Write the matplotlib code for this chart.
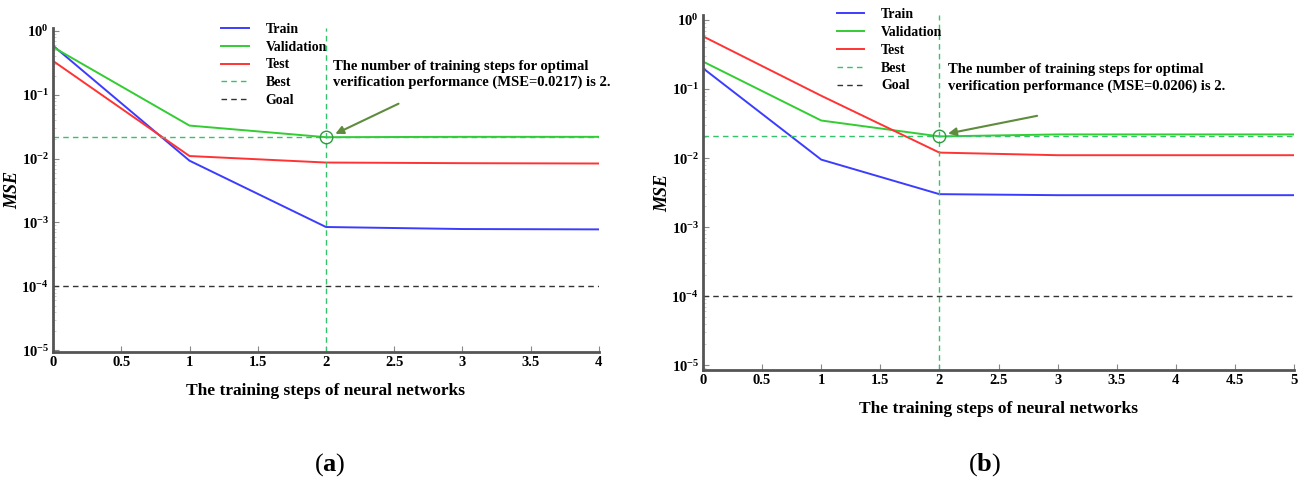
import numpy as np
import matplotlib
matplotlib.use('Agg')
import matplotlib.pyplot as plt
from matplotlib.ticker import FixedLocator, FixedFormatter, LogLocator, NullFormatter

# FONT
plt.rcParams['font.family'] = ['Liberation Serif', 'DejaVu Serif']
plt.rcParams['mathtext.fontset'] = 'custom'
plt.rcParams['mathtext.rm'] = 'Liberation Serif'
plt.rcParams['mathtext.bf'] = 'Liberation Serif:bold'
plt.rcParams['mathtext.it'] = 'Liberation Serif:italic'

# DATA (a)
STEPS_A = [0, 1, 2, 3, 4]
TRAIN_A = [0.59, 0.0093, 0.00085, 0.00079, 0.00078]
VALID_A = [0.56, 0.033, 0.0217, 0.022, 0.022]
TEST_A = [0.34, 0.011, 0.0087, 0.0085, 0.0084]
BEST_A = 0.0217

# DATA (b)
STEPS_B = [0, 1, 2, 3, 4, 5]
TRAIN_B = [0.2, 0.0095, 0.003, 0.0029, 0.0029, 0.0029]
VALID_B = [0.25, 0.035, 0.0206, 0.022, 0.022, 0.022]
TEST_B = [0.58, 0.08, 0.012, 0.011, 0.011, 0.011]
BEST_B = 0.0206

BEST_STEP = 2
GOAL = 1e-4

YTICKS = [1e0, 1e-1, 1e-2, 1e-3, 1e-4, 1e-5]
YTICKLABELS = [r'$\mathbf{10^{0}}$', r'$\mathbf{10^{-1}}$', r'$\mathbf{10^{-2}}$',
               r'$\mathbf{10^{-3}}$', r'$\mathbf{10^{-4}}$', r'$\mathbf{10^{-5}}$']

C_TRAIN = '#3c3cff'
C_VALID = '#33cc33'
C_TEST = '#ff3333'
C_BEST = '#33c36a'
C_ARROW = '#5e8c3c'
C_AXIS = '#555555'


def draw_panel(ax, steps, train, valid, test, best, ylim, xticks, text_xy, arrow_from):
    ax.plot(steps, train, color=C_TRAIN, lw=1.4, label='Train')
    ax.plot(steps, valid, color=C_VALID, lw=1.4, label='Validation')
    ax.plot(steps, test, color=C_TEST, lw=1.4, label='Test')
    ax.axhline(best, color=C_BEST, lw=1.0, ls=(0, (4, 3)), label='Best')
    ax.axvline(BEST_STEP, color=C_BEST, lw=1.0, ls=(0, (4, 3)))
    ax.axhline(GOAL, color='#333333', lw=1.0, ls=(0, (4, 3)), label='Goal')
    ax.plot([BEST_STEP], [best], marker='o', ms=9, mfc='none', mec='#2e9a3e', mew=1.0)

    ax.set_yscale('log')
    ax.set_ylim(*ylim)
    ax.set_xlim(steps[0], steps[-1])
    ax.yaxis.set_major_locator(FixedLocator(YTICKS))
    ax.yaxis.set_major_formatter(FixedFormatter(YTICKLABELS))
    ax.yaxis.set_minor_locator(LogLocator(base=10, subs=np.arange(2, 10)))
    ax.yaxis.set_minor_formatter(NullFormatter())
    ax.set_xticks(xticks)
    ax.set_xticklabels([('%g' % t) for t in xticks], fontweight='bold')

    for s in ['top', 'right']:
        ax.spines[s].set_visible(False)
    for s in ['left', 'bottom']:
        ax.spines[s].set_color(C_AXIS)
        ax.spines[s].set_linewidth(2.0)
    ax.tick_params(axis='both', direction='in', length=4, width=0.8,
                   color='#888888', labelsize=10.5, pad=3)
    ax.tick_params(axis='y', which='minor', direction='in', length=2,
                   width=0.5, color='#bbbbbb')

    ax.set_ylabel('MSE', fontsize=13, fontweight='bold', fontstyle='italic', labelpad=0)
    ax.set_xlabel('The training steps of neural networks', fontsize=12.5,
                  fontweight='bold', labelpad=10)

    ax.annotate('', xy=(BEST_STEP + 0.05, best * 1.08), xytext=arrow_from,
                arrowprops=dict(arrowstyle='-|>', color=C_ARROW, lw=1.5,
                                mutation_scale=12))
    ax.text(text_xy[0], text_xy[1],
            'The number of training steps for optimal\n'
            'verification performance (MSE=%.4f) is 2.' % best,
            fontsize=10.5, fontweight='bold', va='center', ha='left',
            linespacing=1.25)


fig = plt.figure(figsize=(13.06, 4.79), dpi=100)

# PANEL (a)
ax_a = fig.add_axes([0.0406, 0.265, 0.418, 0.6765])
draw_panel(ax_a, STEPS_A, TRAIN_A, VALID_A, TEST_A, BEST_A,
           ylim=(10 ** -5.03, 10 ** 0.047),
           xticks=[0, 0.5, 1, 1.5, 2, 2.5, 3, 3.5, 4],
           text_xy=(2.05, 10 ** -0.68), arrow_from=(2.55, 10 ** -1.12))
ax_a.legend(loc='upper left', bbox_to_anchor=(0.285, 1.055), frameon=False,
            prop={'weight': 'bold', 'size': 10}, handlelength=2.0,
            labelspacing=0.35, handletextpad=1.2)

# PANEL (b)
ax_b = fig.add_axes([0.5383, 0.2276, 0.4525, 0.741])
draw_panel(ax_b, STEPS_B, TRAIN_B, VALID_B, TEST_B, BEST_B,
           ylim=(10 ** -5.07, 10 ** 0.072),
           xticks=[0, 0.5, 1, 1.5, 2, 2.5, 3, 3.5, 4, 4.5, 5],
           text_xy=(2.07, 10 ** -0.84), arrow_from=(2.85, 10 ** -1.38))
ax_b.legend(loc='upper left', bbox_to_anchor=(0.205, 1.055), frameon=False,
            prop={'weight': 'bold', 'size': 10}, handlelength=2.0,
            labelspacing=0.35, handletextpad=1.2)

fig.text(330 / 1306, 1 - 465 / 479, r'($\mathbf{a}$)', fontsize=19,
         ha='center', va='center')
fig.text(985 / 1306, 1 - 465 / 479, r'($\mathbf{b}$)', fontsize=19,
         ha='center', va='center')

plt.savefig('out.png', dpi=100)
plt.close(fig)
